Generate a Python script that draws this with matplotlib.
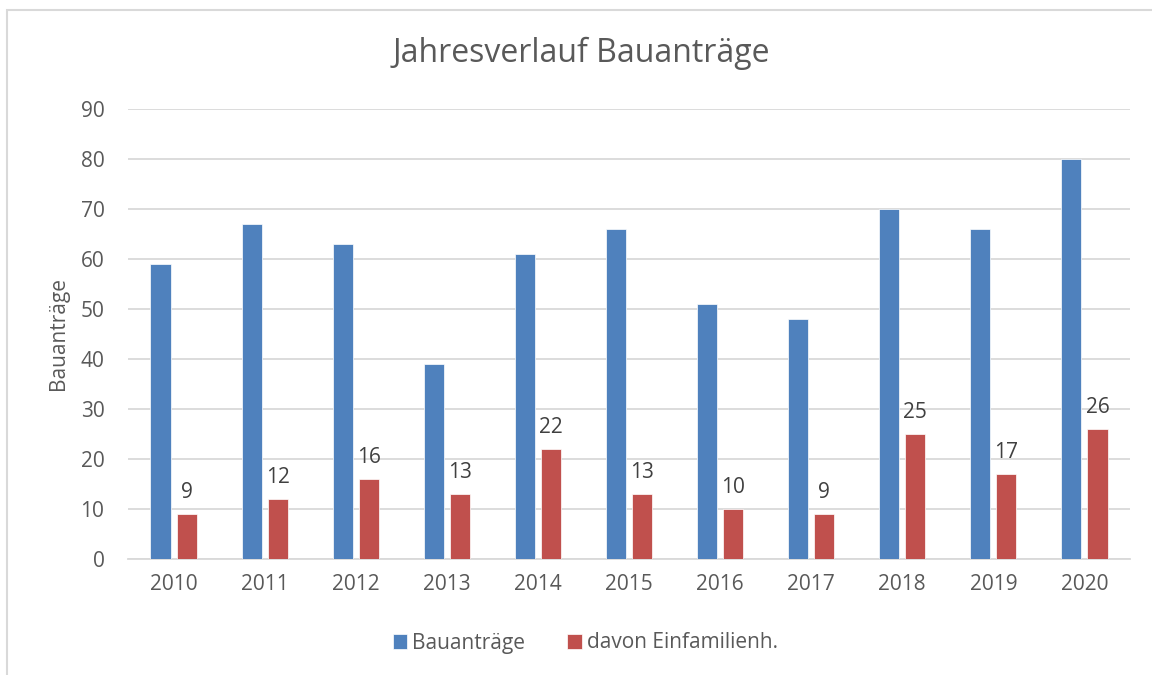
import matplotlib.pyplot as plt
import matplotlib.patches as patches
import numpy as np

years = ['2010', '2011', '2012', '2013', '2014', '2015', '2016', '2017', '2018', '2019', '2020']
bauantraege = [59, 67, 63, 39, 61, 66, 51, 48, 70, 66, 80]
einfamilien = [9, 12, 16, 13, 22, 13, 10, 9, 25, 17, 26]

plt.rcParams['font.family'] = ['Open Sans', 'DejaVu Sans']
txt = '#595959'

fig = plt.figure(figsize=(11.52, 6.75), dpi=100)
ax = fig.add_axes([128/1152, 1 - 559/675, (1130 - 128)/1152, 450/675])

x = np.arange(len(years))
w = 0.22
b1 = ax.bar(x - 0.143, bauantraege, width=w, color='#4f81bd', edgecolor='white', linewidth=0.5,
            label='Bauanträge', zorder=3)
b2 = ax.bar(x + 0.143, einfamilien, width=w, color='#c0504d', edgecolor='white', linewidth=0.5,
            label='davon Einfamilienh.', zorder=3)
ax.bar_label(b2, padding=8, fontsize=15, color='#404040')

ax.set_xlim(-0.5, len(years) - 0.5)
ax.set_ylim(0, 90)
ax.set_yticks(range(0, 91, 10))
ax.set_xticks(x)
ax.set_xticklabels(years)
ax.tick_params(axis='both', length=0, labelsize=15, labelcolor=txt)
ax.tick_params(axis='x', pad=11)
ax.tick_params(axis='y', pad=17)
ax.grid(axis='y', color='#d9d9d9', linewidth=1.3, zorder=0)
for s in ['top', 'right', 'left']:
    ax.spines[s].set_visible(False)
ax.spines['bottom'].set_color('#d9d9d9')
ax.spines['bottom'].set_linewidth(1.3)

ax.set_ylabel('Bauanträge', fontsize=15, color=txt, labelpad=8)
fig.text(0.505, 1 - 53/675, 'Jahresverlauf Bauanträge', ha='center', va='center', fontsize=23, color=txt)

fig.legend(handles=[b1, b2], loc='center', bbox_to_anchor=(0.508, 1 - 643/675), ncol=2,
           frameon=False, fontsize=15, labelcolor=txt, handlelength=0.7, handleheight=0.7,
           handletextpad=0.25, columnspacing=2.0)

fig.patches.append(patches.Rectangle((7/1152, -0.05), 1.1, 1 - 10/675 + 0.05,
                                     transform=fig.transFigure, fill=False,
                                     edgecolor='#d9d9d9', linewidth=1.5))

fig.savefig('out.png', dpi=100)
